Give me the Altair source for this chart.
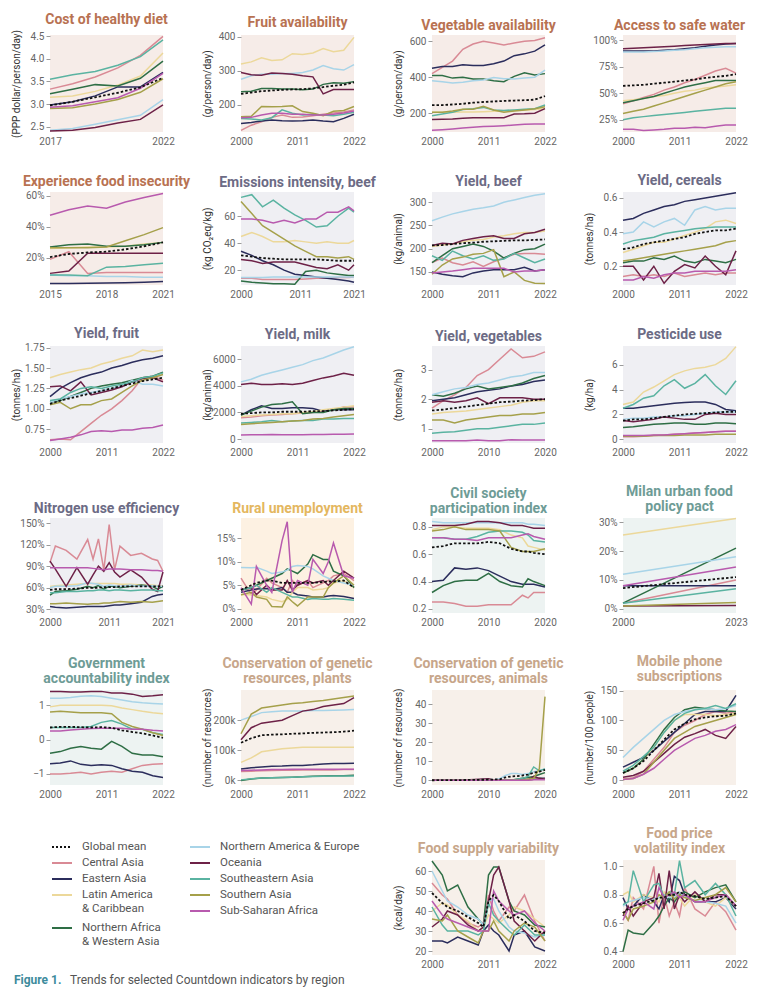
import altair as alt
import pandas as pd

FONT = "Roboto"

# ---------------- regions ----------------
CODES = ["CA", "EA", "LAC", "NAWA", "NAE", "OC", "SEA", "SA", "SSA"]
REGION_LABELS = {
    "GM": "Global mean",
    "CA": "Central Asia",
    "EA": "Eastern Asia",
    "LAC": "Latin America\n& Caribbean",
    "NAWA": "Northern Africa\n& Western Asia",
    "NAE": "Northern America & Europe",
    "OC": "Oceania",
    "SEA": "Southeastern Asia",
    "SA": "Southern Asia",
    "SSA": "Sub-Saharan Africa",
}
REGION_COLORS = ["#d98a95", "#2b2d5c", "#ecd89a", "#2e6e45", "#a8d4e8",
                 "#6d2147", "#5ab3a1", "#a5a04a", "#b85aae"]
GLOBAL_COLOR = "#111111"
LEGEND_COL1 = ["GM", "CA", "EA", "LAC", "NAWA"]
LEGEND_COL2 = ["NAE", "OC", "SEA", "SA", "SSA"]

THEMES = {
    "diet": ("#f6ece8", "#b87252"),
    "env": ("#efeff3", "#6c6b85"),
    "unemp": ("#fdf1e2", "#e4b75f"),
    "gov": ("#edf3f2", "#6e9c96"),
    "res": ("#f7f0ea", "#c7a68a"),
}

# ---------------- data ----------------
Y12 = [2000, 2002, 2004, 2006, 2008, 2010, 2012, 2014, 2016, 2018, 2020, 2022]

COST_YEARS = [2017, 2018, 2019, 2020, 2021, 2022]
COST = {
    "GM": [2.97, 3.05, 3.15, 3.25, 3.37, 3.58],
    "CA": [3.33, 3.45, 3.60, 3.80, 4.08, 4.50],
    "EA": [2.98, 3.05, 3.18, 3.38, 3.38, 3.70],
    "LAC": [3.15, 3.18, 3.28, 3.42, 3.62, 4.13],
    "NAWA": [3.23, 3.33, 3.43, 3.40, 3.57, 3.95],
    "NAE": [2.42, 2.46, 2.55, 2.65, 2.75, 3.10],
    "OC": [2.40, 2.42, 2.48, 2.58, 2.66, 2.98],
    "SEA": [3.55, 3.65, 3.72, 3.86, 4.05, 4.42],
    "SA": [2.90, 2.92, 3.00, 3.10, 3.26, 3.56],
    "SSA": [2.93, 2.96, 3.05, 3.14, 3.35, 3.68],
}

FRUIT = {
    "GM": [232, 236, 240, 242, 244, 245, 246, 248, 252, 256, 259, 266],
    "CA": [125, 140, 150, 163, 170, 163, 164, 168, 172, 176, 179, 185],
    "EA": [145, 148, 152, 155, 153, 152, 153, 155, 152, 150, 160, 172],
    "LAC": [320, 326, 338, 330, 332, 350, 348, 352, 365, 356, 360, 398],
    "NAWA": [238, 240, 248, 248, 246, 246, 244, 246, 260, 265, 263, 268],
    "NAE": [275, 285, 290, 290, 292, 292, 295, 302, 315, 306, 302, 318],
    "OC": [295, 288, 287, 293, 292, 290, 285, 282, 232, 245, 245, 245],
    "SEA": [160, 158, 155, 162, 185, 175, 170, 172, 170, 168, 172, 178],
    "SA": [165, 166, 195, 194, 195, 197, 180, 175, 168, 181, 183, 195],
    "SSA": [162, 163, 170, 175, 175, 172, 172, 170, 170, 172, 176, 182],
}

VEG = {
    "GM": [245, 245, 248, 252, 258, 262, 265, 268, 270, 272, 275, 295],
    "CA": [420, 455, 490, 555, 585, 600, 590, 580, 590, 600, 605, 620],
    "EA": [450, 460, 460, 470, 465, 465, 475, 490, 520, 530, 545, 580],
    "LAC": [205, 205, 205, 206, 207, 208, 210, 212, 214, 216, 220, 225],
    "NAWA": [410, 410, 395, 400, 390, 390, 380, 375, 405, 425, 412, 420],
    "NAE": [380, 375, 368, 372, 380, 385, 398, 392, 390, 395, 400, 440],
    "OC": [165, 166, 168, 172, 175, 175, 175, 175, 195, 196, 200, 225],
    "SEA": [185, 195, 205, 220, 225, 232, 218, 215, 218, 222, 225, 245],
    "SA": [205, 205, 212, 222, 222, 238, 218, 205, 212, 218, 225, 235],
    "SSA": [105, 108, 112, 117, 122, 125, 127, 130, 134, 138, 140, 140],
}

WATER = {
    "GM": [0.57, 0.575, 0.58, 0.59, 0.60, 0.61, 0.62, 0.63, 0.645, 0.655, 0.665, 0.68],
    "CA": [0.40, 0.43, 0.46, 0.49, 0.53, 0.56, 0.60, 0.63, 0.67, 0.71, 0.735, 0.69],
    "EA": [0.90, 0.90, 0.90, 0.90, 0.905, 0.91, 0.92, 0.93, 0.945, 0.955, 0.965, 0.97],
    "LAC": [0.43, 0.44, 0.45, 0.47, 0.48, 0.50, 0.52, 0.53, 0.55, 0.56, 0.57, 0.58],
    "NAWA": [0.41, 0.43, 0.45, 0.47, 0.50, 0.53, 0.56, 0.58, 0.60, 0.62, 0.62, 0.62],
    "NAE": [0.89, 0.89, 0.89, 0.895, 0.90, 0.905, 0.91, 0.92, 0.93, 0.935, 0.94, 0.94],
    "OC": [0.92, 0.925, 0.93, 0.935, 0.94, 0.945, 0.95, 0.955, 0.96, 0.965, 0.97, 0.97],
    "SEA": [0.25, 0.27, 0.28, 0.29, 0.30, 0.31, 0.32, 0.33, 0.34, 0.35, 0.36, 0.36],
    "SA": [0.31, 0.33, 0.35, 0.38, 0.41, 0.44, 0.47, 0.50, 0.53, 0.56, 0.59, 0.61],
    "SSA": [0.16, 0.16, 0.15, 0.155, 0.16, 0.17, 0.17, 0.18, 0.175, 0.19, 0.20, 0.20],
}

INSEC_YEARS = [2015, 2016, 2017, 2018, 2019, 2020, 2021]
INSEC = {
    "GM": [0.205, 0.225, 0.235, 0.24, 0.255, 0.275, 0.30],
    "CA": [0.19, 0.24, 0.10, 0.105, 0.105, 0.105, 0.105],
    "EA": [0.035, 0.035, 0.036, 0.038, 0.04, 0.043, 0.047],
    "LAC": [0.26, 0.265, 0.27, 0.27, 0.275, 0.29, 0.30],
    "NAWA": [0.27, 0.285, 0.29, 0.275, 0.275, 0.285, 0.30],
    "NAE": [0.09, 0.085, 0.085, 0.08, 0.08, 0.075, 0.075],
    "OC": [0.10, 0.115, 0.23, 0.23, 0.23, 0.23, 0.23],
    "SEA": [0.09, 0.09, 0.085, 0.14, 0.145, 0.155, 0.165],
    "SA": [0.265, 0.265, 0.265, 0.27, 0.31, 0.35, 0.395],
    "SSA": [0.475, 0.51, 0.535, 0.52, 0.56, 0.59, 0.615],
}

EMIS_YEARS = [2000, 2002, 2004, 2006, 2008, 2010, 2012, 2014, 2016, 2018, 2020, 2021]
EMIS = {
    "GM": [31, 30, 29, 28.5, 28, 28, 28, 28, 27.5, 27, 27, 27],
    "CA": [14, 14, 13, 13, 13, 13, 13.5, 14, 14, 14.5, 14.5, 15],
    "EA": [34, 31, 27, 24, 20, 17, 16, 15, 14, 13, 12, 11],
    "LAC": [45, 48, 45, 41, 41, 42, 41, 40, 41, 40, 40, 42],
    "NAWA": [12, 11, 10.5, 10, 10, 9.5, 19, 20, 18, 17, 16, 16],
    "NAE": [14.5, 14.5, 14.5, 15, 15, 15, 15, 15, 15, 15, 15, 15],
    "OC": [28, 27, 25, 26, 26, 26, 24, 22, 21, 24, 20, 24],
    "SEA": [74, 76, 67, 72, 66, 61, 57, 52, 53, 60, 66, 63],
    "SA": [71, 62, 53, 48, 43, 38, 34, 30, 30, 29, 30, 28],
    "SSA": [58, 58, 57, 55, 57, 55, 58, 58, 63, 63, 67, 64],
}

BEEF = {
    "GM": [207, 208, 210, 212, 213, 215, 216, 217, 218, 218, 219, 220],
    "CA": [170, 180, 170, 165, 172, 162, 172, 180, 188, 190, 190, 188],
    "EA": [150, 145, 142, 140, 148, 152, 155, 155, 155, 160, 152, 155],
    "LAC": [205, 208, 210, 215, 218, 220, 225, 228, 232, 235, 235, 238],
    "NAWA": [170, 185, 200, 205, 210, 205, 195, 180, 190, 198, 200, 210],
    "NAE": [260, 268, 275, 280, 285, 288, 292, 300, 305, 310, 315, 318],
    "OC": [207, 212, 210, 218, 222, 226, 228, 222, 222, 232, 235, 242],
    "SEA": [185, 175, 195, 185, 178, 185, 175, 178, 190, 180, 170, 178],
    "SA": [145, 165, 178, 182, 188, 190, 198, 140, 150, 132, 126, 125],
    "SSA": [148, 150, 152, 155, 158, 158, 158, 158, 150, 152, 152, 155],
}

CEREAL = {
    "GM": [0.30, 0.31, 0.33, 0.34, 0.35, 0.36, 0.37, 0.39, 0.40, 0.41, 0.41, 0.42],
    "CA": [0.14, 0.15, 0.14, 0.15, 0.14, 0.16, 0.14, 0.15, 0.16, 0.15, 0.16, 0.16],
    "EA": [0.47, 0.48, 0.51, 0.53, 0.55, 0.56, 0.58, 0.59, 0.60, 0.61, 0.62, 0.63],
    "LAC": [0.28, 0.30, 0.32, 0.34, 0.34, 0.36, 0.38, 0.40, 0.42, 0.46, 0.47, 0.45],
    "NAWA": [0.22, 0.23, 0.23, 0.25, 0.24, 0.26, 0.23, 0.22, 0.24, 0.23, 0.22, 0.24],
    "NAE": [0.39, 0.40, 0.46, 0.43, 0.46, 0.48, 0.44, 0.53, 0.55, 0.53, 0.54, 0.54],
    "OC": [0.20, 0.20, 0.12, 0.20, 0.10, 0.17, 0.21, 0.19, 0.26, 0.20, 0.15, 0.29],
    "SEA": [0.33, 0.35, 0.36, 0.37, 0.39, 0.40, 0.41, 0.42, 0.425, 0.43, 0.43, 0.43],
    "SA": [0.23, 0.24, 0.25, 0.26, 0.27, 0.28, 0.29, 0.30, 0.31, 0.32, 0.34, 0.35],
    "SSA": [0.12, 0.12, 0.14, 0.13, 0.15, 0.16, 0.16, 0.17, 0.17, 0.17, 0.17, 0.18],
}

FRUITY = {
    "GM": [1.06, 1.10, 1.13, 1.16, 1.19, 1.22, 1.25, 1.28, 1.31, 1.34, 1.36, 1.38],
    "CA": [0.62, 0.63, 0.62, 0.72, 0.82, 0.92, 1.00, 1.10, 1.22, 1.38, 1.40, 1.35],
    "EA": [1.15, 1.25, 1.32, 1.38, 1.42, 1.45, 1.50, 1.53, 1.57, 1.60, 1.62, 1.65],
    "LAC": [1.38, 1.42, 1.45, 1.48, 1.50, 1.55, 1.58, 1.62, 1.65, 1.72, 1.70, 1.72],
    "NAWA": [1.08, 1.10, 1.15, 1.20, 1.25, 1.28, 1.30, 1.32, 1.35, 1.38, 1.40, 1.45],
    "NAE": [1.08, 1.12, 1.15, 1.18, 1.20, 1.22, 1.25, 1.28, 1.35, 1.30, 1.30, 1.28],
    "OC": [1.27, 1.28, 1.22, 1.33, 1.17, 1.20, 1.23, 1.27, 1.33, 1.37, 1.38, 1.33],
    "SEA": [1.10, 1.12, 1.20, 1.25, 1.27, 1.25, 1.28, 1.30, 1.33, 1.38, 1.40, 1.44],
    "SA": [1.05, 1.08, 1.00, 1.05, 1.05, 1.10, 1.12, 1.20, 1.28, 1.35, 1.38, 1.42],
    "SSA": [0.61, 0.63, 0.65, 0.68, 0.72, 0.73, 0.72, 0.74, 0.74, 0.76, 0.77, 0.80],
}

MILK = {
    "GM": [1900, 1950, 2000, 2000, 2050, 2050, 2050, 2100, 2100, 2150, 2200, 2250],
    "CA": [1600, 1650, 1750, 1800, 1850, 1900, 1950, 2000, 2100, 2200, 2400, 2400],
    "EA": [1800, 2200, 2500, 2300, 2300, 2350, 2350, 2300, 2100, 2200, 2200, 2200],
    "LAC": [1700, 1750, 1800, 1850, 1900, 1900, 2000, 2050, 2200, 2300, 2400, 2500],
    "NAWA": [1800, 2100, 2400, 2600, 2650, 2800, 1900, 2000, 2000, 2200, 2300, 2300],
    "NAE": [4300, 4500, 4800, 5000, 5200, 5400, 5600, 5900, 6100, 6400, 6700, 6950],
    "OC": [4100, 4200, 4100, 4100, 4150, 4100, 4200, 4400, 4600, 4750, 4950, 4800],
    "SEA": [1200, 1250, 1300, 1400, 1300, 1350, 1400, 1400, 1500, 1500, 1550, 1550],
    "SA": [1100, 1150, 1200, 1250, 1300, 1350, 1400, 1500, 1550, 1650, 1750, 1850],
    "SSA": [300, 320, 330, 340, 330, 320, 330, 340, 340, 350, 360, 370],
}

VEGY_YEARS = [2000, 2002, 2004, 2006, 2008, 2010, 2012, 2014, 2016, 2018, 2020]
VEGY = {
    "GM": [1.62, 1.65, 1.70, 1.75, 1.80, 1.85, 1.90, 1.92, 1.95, 1.97, 2.00],
    "CA": [1.70, 1.95, 2.15, 2.40, 2.80, 3.00, 3.35, 3.70, 3.40, 3.45, 3.60],
    "EA": [1.95, 2.00, 2.05, 2.15, 2.25, 2.30, 2.35, 2.45, 2.50, 2.60, 2.65],
    "LAC": [1.50, 1.55, 1.58, 1.60, 1.65, 1.70, 1.75, 1.80, 1.90, 1.95, 1.95],
    "NAWA": [2.15, 2.10, 2.20, 2.35, 2.45, 2.35, 2.40, 2.45, 2.55, 2.70, 2.80],
    "NAE": [2.15, 2.25, 2.35, 2.40, 2.50, 2.55, 2.65, 2.75, 2.80, 2.90, 2.90],
    "OC": [1.90, 1.95, 1.90, 1.95, 2.05, 1.85, 2.05, 2.05, 2.05, 2.00, 2.00],
    "SEA": [0.85, 0.88, 0.90, 0.95, 1.00, 1.00, 1.05, 1.10, 1.15, 1.15, 1.20],
    "SA": [1.30, 1.30, 1.20, 1.30, 1.35, 1.40, 1.45, 1.45, 1.50, 1.50, 1.55],
    "SSA": [0.60, 0.60, 0.60, 0.60, 0.62, 0.60, 0.60, 0.63, 0.62, 0.62, 0.62],
}

PEST = {
    "GM": [1.5, 1.6, 1.6, 1.7, 1.8, 1.9, 2.0, 2.05, 2.1, 2.15, 2.2, 2.2],
    "CA": [0.2, 0.2, 0.25, 0.3, 0.35, 0.4, 0.45, 0.5, 0.55, 0.6, 0.65, 0.65],
    "EA": [2.5, 2.5, 2.6, 2.7, 2.8, 2.9, 2.95, 3.0, 3.0, 2.8, 2.4, 2.3],
    "LAC": [2.8, 3.0, 3.8, 4.2, 4.7, 5.2, 5.5, 5.7, 5.8, 6.0, 6.5, 7.45],
    "NAWA": [0.95, 1.0, 1.1, 1.2, 1.25, 1.3, 1.3, 1.2, 1.2, 1.3, 1.3, 1.25],
    "NAE": [1.6, 1.7, 1.7, 1.8, 1.8, 1.9, 1.9, 2.0, 2.1, 2.2, 2.2, 2.2],
    "OC": [1.5, 1.4, 1.5, 1.6, 1.8, 1.7, 1.6, 1.6, 2.0, 2.1, 2.0, 2.0],
    "SEA": [2.5, 2.8, 3.3, 3.5, 4.3, 4.8, 4.1, 4.5, 5.2, 4.3, 3.6, 4.7],
    "SA": [0.25, 0.25, 0.25, 0.3, 0.3, 0.3, 0.35, 0.35, 0.35, 0.4, 0.4, 0.4],
    "SSA": [0.3, 0.3, 0.3, 0.35, 0.35, 0.4, 0.45, 0.5, 0.55, 0.6, 0.65, 0.65],
}

NUE_YEARS = [2000, 2001, 2003, 2005, 2007, 2008, 2009, 2010, 2011, 2012, 2013, 2015, 2017, 2019, 2020, 2021]
NUE = {
    "GM": [0.57, 0.58, 0.58, 0.59, 0.60, 0.60, 0.60, 0.61, 0.61, 0.61, 0.62, 0.62, 0.62, 0.62, 0.62, 0.62],
    "CA": [0.95, 1.18, 1.12, 1.00, 1.27, 1.00, 1.28, 0.85, 1.48, 0.85, 1.18, 1.05, 1.08, 1.00, 0.98, 0.83],
    "EA": [0.34, 0.33, 0.32, 0.33, 0.34, 0.34, 0.34, 0.34, 0.35, 0.36, 0.36, 0.38, 0.40, 0.48, 0.50, 0.51],
    "LAC": [0.62, 0.63, 0.64, 0.65, 0.66, 0.66, 0.66, 0.66, 0.66, 0.66, 0.65, 0.65, 0.64, 0.64, 0.63, 0.63],
    "NAWA": [0.50, 0.55, 0.56, 0.58, 0.62, 0.60, 0.63, 0.58, 0.62, 0.62, 0.60, 0.62, 0.64, 0.62, 0.58, 0.62],
    "NAE": [0.60, 0.62, 0.62, 0.63, 0.67, 0.66, 0.65, 0.62, 0.64, 0.63, 0.62, 0.64, 0.62, 0.63, 0.62, 0.62],
    "OC": [0.97, 0.86, 0.62, 0.88, 0.65, 0.78, 0.90, 0.83, 0.95, 0.82, 0.75, 0.85, 0.75, 0.58, 0.55, 0.82],
    "SEA": [0.53, 0.53, 0.55, 0.55, 0.56, 0.56, 0.57, 0.57, 0.56, 0.57, 0.57, 0.56, 0.57, 0.57, 0.56, 0.56],
    "SA": [0.38, 0.38, 0.39, 0.38, 0.37, 0.38, 0.38, 0.39, 0.39, 0.40, 0.41, 0.40, 0.41, 0.40, 0.41, 0.42],
    "SSA": [0.88, 0.88, 0.88, 0.88, 0.88, 0.87, 0.86, 0.85, 0.86, 0.86, 0.86, 0.85, 0.85, 0.84, 0.84, 0.83],
}

RURAL_YEARS = [2000, 2002, 2003, 2005, 2006, 2008, 2009, 2010, 2011, 2013, 2014, 2016, 2017, 2018, 2020, 2022]
RURAL = {
    "GM": [0.040, 0.050, 0.055, 0.060, 0.060, 0.055, 0.055, 0.055, 0.055, 0.055, 0.055, 0.057, 0.058, 0.058, 0.060, 0.045],
    "CA": [0.065, 0.030, 0.040, 0.065, 0.055, 0.045, 0.035, 0.060, 0.050, 0.060, 0.045, 0.055, 0.060, 0.070, 0.075, 0.060],
    "EA": [0.035, 0.040, 0.042, 0.043, 0.040, 0.045, 0.035, 0.035, 0.030, 0.027, 0.025, 0.025, 0.027, 0.028, 0.026, 0.022],
    "LAC": [0.030, 0.030, 0.028, 0.025, 0.020, 0.015, 0.020, 0.035, 0.045, 0.045, 0.040, 0.042, 0.045, 0.055, 0.060, 0.045],
    "NAWA": [0.040, 0.045, 0.050, 0.060, 0.065, 0.075, 0.085, 0.080, 0.075, 0.095, 0.115, 0.105, 0.105, 0.080, 0.070, 0.045],
    "NAE": [0.088, 0.087, 0.088, 0.080, 0.075, 0.078, 0.082, 0.090, 0.092, 0.090, 0.085, 0.070, 0.065, 0.060, 0.055, 0.050],
    "OC": [0.040, 0.045, 0.030, 0.050, 0.040, 0.040, 0.060, 0.040, 0.050, 0.060, 0.055, 0.060, 0.050, 0.060, 0.080, 0.065],
    "SEA": [0.040, 0.045, 0.050, 0.035, 0.045, 0.035, 0.030, 0.025, 0.025, 0.020, 0.022, 0.020, 0.020, 0.022, 0.020, 0.018],
    "SA": [0.030, 0.035, 0.025, 0.020, 0.005, 0.004, 0.025, 0.015, 0.006, 0.025, 0.025, 0.025, 0.045, 0.055, 0.070, 0.050],
    "SSA": [0.045, 0.010, 0.090, 0.050, 0.035, 0.145, 0.185, 0.035, 0.060, 0.050, 0.105, 0.075, 0.100, 0.140, 0.070, 0.065],
}

CIVIL_YEARS = [2000, 2002, 2004, 2006, 2008, 2010, 2012, 2014, 2016, 2017, 2018, 2020]
CIVIL = {
    "GM": [0.65, 0.66, 0.68, 0.68, 0.68, 0.69, 0.68, 0.64, 0.62, 0.62, 0.61, 0.60],
    "CA": [0.25, 0.25, 0.24, 0.22, 0.22, 0.23, 0.23, 0.23, 0.30, 0.28, 0.32, 0.32],
    "EA": [0.40, 0.41, 0.50, 0.49, 0.50, 0.48, 0.44, 0.40, 0.38, 0.38, 0.38, 0.36],
    "LAC": [0.78, 0.80, 0.80, 0.79, 0.79, 0.79, 0.78, 0.74, 0.72, 0.66, 0.65, 0.63],
    "NAWA": [0.32, 0.37, 0.40, 0.41, 0.41, 0.46, 0.40, 0.37, 0.36, 0.42, 0.40, 0.37],
    "NAE": [0.84, 0.83, 0.83, 0.83, 0.83, 0.83, 0.83, 0.83, 0.83, 0.82, 0.82, 0.81],
    "OC": [0.81, 0.81, 0.81, 0.82, 0.84, 0.84, 0.83, 0.81, 0.81, 0.80, 0.79, 0.79],
    "SEA": [0.72, 0.72, 0.71, 0.71, 0.73, 0.76, 0.77, 0.77, 0.76, 0.74, 0.70, 0.69],
    "SA": [0.77, 0.78, 0.80, 0.78, 0.78, 0.78, 0.77, 0.65, 0.62, 0.62, 0.62, 0.64],
    "SSA": [0.72, 0.72, 0.71, 0.71, 0.70, 0.72, 0.72, 0.72, 0.74, 0.75, 0.73, 0.71],
}

MILAN_YEARS = [2000, 2023]
MILAN = {
    "GM": [0.072, 0.11],
    "CA": [0.02, 0.10],
    "EA": [0.08, 0.08],
    "LAC": [0.255, 0.312],
    "NAWA": [0.02, 0.21],
    "NAE": [0.12, 0.18],
    "OC": [0.01, 0.012],
    "SEA": [0.02, 0.07],
    "SA": [0.01, 0.022],
    "SSA": [0.08, 0.145],
}

GOV = {
    "GM": [0.35, 0.37, 0.37, 0.36, 0.35, 0.36, 0.34, 0.27, 0.22, 0.18, 0.12, 0.05],
    "CA": [-1.00, -1.00, -0.98, -0.95, -1.00, -0.95, -0.92, -0.95, -0.85, -0.75, -0.72, -0.70],
    "EA": [-0.70, -0.68, -0.62, -0.72, -0.75, -0.73, -0.75, -0.85, -0.92, -0.95, -1.05, -1.10],
    "LAC": [0.95, 1.00, 1.00, 1.00, 1.00, 1.00, 0.98, 0.92, 0.87, 0.82, 0.78, 0.75],
    "NAWA": [-0.40, -0.35, -0.25, -0.20, -0.25, -0.28, -0.05, -0.20, -0.40, -0.45, -0.45, -0.50],
    "NAE": [1.20, 1.20, 1.22, 1.26, 1.27, 1.25, 1.20, 1.15, 1.10, 1.07, 1.05, 1.03],
    "OC": [1.40, 1.40, 1.38, 1.38, 1.40, 1.40, 1.35, 1.35, 1.32, 1.25, 1.27, 1.30],
    "SEA": [0.35, 0.35, 0.35, 0.35, 0.38, 0.50, 0.55, 0.45, 0.30, 0.30, 0.20, 0.15],
    "SA": [0.80, 0.82, 0.80, 0.78, 0.78, 0.78, 0.75, 0.50, 0.38, 0.30, 0.20, 0.12],
    "SSA": [0.25, 0.25, 0.28, 0.30, 0.32, 0.33, 0.33, 0.33, 0.30, 0.30, 0.27, 0.25],
}

PLANTS = {
    "GM": [125000, 140000, 150000, 152000, 153000, 155000, 156000, 158000, 159000, 160000, 162000, 165000],
    "CA": [30000, 31000, 32000, 33000, 34000, 34000, 35000, 35000, 35000, 35000, 36000, 36000],
    "EA": [38000, 42000, 45000, 47000, 48000, 50000, 50000, 52000, 55000, 56000, 56000, 57000],
    "LAC": [60000, 75000, 95000, 100000, 105000, 108000, 110000, 110000, 110000, 110000, 110000, 110000],
    "NAWA": [0, 5000, 8000, 9000, 10000, 11000, 12000, 14000, 15000, 16000, 16000, 17000],
    "NAE": [200000, 212000, 225000, 228000, 230000, 230000, 230000, 232000, 232000, 233000, 234000, 235000],
    "OC": [135000, 175000, 190000, 195000, 200000, 215000, 230000, 235000, 245000, 250000, 255000, 275000],
    "SEA": [2000, 6000, 8000, 9000, 10000, 11000, 12000, 13000, 14000, 15000, 15000, 15000],
    "SA": [155000, 220000, 240000, 245000, 250000, 255000, 258000, 262000, 265000, 270000, 275000, 280000],
    "SSA": [33000, 34000, 35000, 36000, 36000, 37000, 37000, 37000, 37000, 37000, 37000, 37000],
}

ANIM_YEARS = [2000, 2005, 2010, 2011, 2012, 2013, 2014, 2015, 2016, 2017, 2018, 2019, 2020]
ANIM = {
    "GM": [0, 0.1, 0.3, 0.4, 0.5, 1.5, 2.0, 2.2, 2.5, 3.0, 4.0, 4.5, 5.5],
    "CA": [0, 0, 0, 0, 0, 0, 0, 0, 0, 0.5, 1.0, 0.5, 0.5],
    "EA": [0, 0, 0, 0, 0, 0, 0, 0, 0, 0, 0.5, 1.0, 1.0],
    "LAC": [0, 0, 0, 0, 0, 0, 0, 0, 0, 0, 0.5, 0.5, 0.5],
    "NAWA": [0, 0, 0, 0, 0, 0, 0, 0.5, 1.0, 1.5, 2.0, 3.0, 4.0],
    "NAE": [0, 0, 0.5, 0.3, 0.8, 2.5, 3.5, 3.5, 3.0, 3.5, 4.5, 5.0, 6.0],
    "OC": [0, 0, 0.8, 0, 0, 0, 0, 0, 0, 0, 2.0, 1.0, 0.5],
    "SEA": [0, 0, 0, 0, 0, 0, 0, 0.5, 1.0, 2.0, 7.0, 5.0, 6.0],
    "SA": [0, 0, 0, 0, 0, 0, 0, 0, 0, 0.5, 1.0, 6.0, 44.0],
    "SSA": [0, 0, 0, 0, 0, 0, 0, 0, 0, 0, 0.2, 0.2, 0.3],
}

MOBILE = {
    "GM": [12, 20, 32, 50, 68, 85, 95, 102, 105, 107, 108, 112],
    "CA": [2, 4, 15, 35, 55, 80, 92, 100, 110, 115, 112, 115],
    "EA": [22, 30, 38, 50, 65, 80, 95, 110, 115, 115, 115, 142],
    "LAC": [12, 20, 35, 55, 80, 100, 110, 110, 110, 108, 110, 112],
    "NAWA": [12, 20, 35, 60, 85, 105, 118, 122, 120, 118, 116, 115],
    "NAE": [38, 55, 70, 85, 100, 110, 115, 118, 120, 118, 120, 125],
    "OC": [5, 8, 15, 30, 45, 60, 72, 78, 85, 75, 70, 90],
    "SEA": [15, 25, 40, 55, 80, 100, 112, 118, 120, 125, 120, 128],
    "SA": [1, 3, 10, 30, 50, 70, 80, 90, 95, 100, 105, 110],
    "SSA": [1, 3, 10, 20, 35, 50, 60, 70, 75, 82, 85, 93],
}

SUPPLY_YEARS = [2000, 2002, 2003, 2005, 2007, 2009, 2010, 2011, 2012, 2013, 2015, 2016, 2018, 2020, 2022]
SUPPLY = {
    "GM": [49, 44, 42, 40, 37, 34, 32, 45, 48, 45, 36, 38, 35, 30, 29],
    "CA": [54, 48, 46, 38, 34, 32, 34, 48, 40, 35, 42, 40, 48, 35, 25],
    "EA": [25, 25, 24, 27, 25, 23, 30, 33, 30, 28, 20, 28, 30, 22, 20],
    "LAC": [40, 44, 43, 38, 35, 30, 32, 38, 36, 34, 38, 42, 40, 36, 32],
    "NAWA": [65, 58, 50, 53, 42, 36, 33, 58, 62, 62, 45, 40, 38, 33, 32],
    "NAE": [60, 50, 45, 42, 38, 36, 33, 45, 46, 40, 32, 30, 29, 27, 28],
    "OC": [32, 36, 40, 38, 33, 30, 32, 45, 58, 62, 45, 35, 30, 25, 30],
    "SEA": [42, 33, 30, 30, 30, 28, 30, 44, 38, 35, 30, 28, 33, 28, 28],
    "SA": [36, 35, 38, 30, 27, 24, 30, 30, 35, 30, 25, 30, 34, 32, 25],
    "SSA": [45, 38, 36, 34, 32, 30, 30, 30, 50, 45, 40, 38, 40, 34, 30],
}

PRICE_YEARS = [2000, 2001, 2002, 2004, 2006, 2007, 2008, 2009, 2010, 2011, 2012, 2014, 2016, 2018, 2020, 2022]
PRICE = {
    "GM": [0.67, 0.70, 0.72, 0.74, 0.76, 0.78, 0.78, 0.80, 0.80, 0.82, 0.80, 0.79, 0.77, 0.78, 0.79, 0.72],
    "CA": [0.68, 0.62, 0.78, 0.70, 1.00, 0.60, 0.80, 0.65, 0.75, 0.65, 0.85, 0.70, 0.65, 0.75, 0.68, 0.55],
    "EA": [0.78, 0.70, 0.72, 0.80, 0.75, 0.70, 0.80, 0.75, 0.93, 0.90, 0.80, 0.75, 0.75, 0.75, 0.78, 0.70],
    "LAC": [0.80, 0.82, 0.75, 0.80, 0.78, 0.75, 0.82, 0.78, 0.80, 0.78, 0.72, 0.80, 0.75, 0.72, 0.78, 0.72],
    "NAWA": [0.40, 0.55, 0.53, 0.52, 0.60, 0.65, 0.72, 0.78, 0.75, 0.80, 0.82, 0.78, 0.82, 0.85, 0.87, 0.75],
    "NAE": [0.72, 0.75, 0.76, 0.78, 0.77, 0.78, 0.80, 0.78, 0.78, 0.82, 0.78, 0.76, 0.75, 0.74, 0.72, 0.60],
    "OC": [0.65, 0.72, 0.65, 0.75, 0.78, 0.95, 0.70, 0.97, 0.70, 0.80, 0.75, 0.82, 0.75, 0.80, 0.80, 0.72],
    "SEA": [0.73, 0.75, 0.97, 0.75, 0.87, 0.88, 0.78, 0.82, 0.80, 1.04, 0.85, 0.90, 0.80, 0.88, 0.80, 0.65],
    "SA": [0.68, 0.62, 0.70, 0.72, 0.75, 0.80, 0.78, 0.82, 0.77, 0.80, 0.78, 0.76, 0.78, 0.80, 0.85, 0.75],
    "SSA": [0.62, 0.70, 0.72, 0.75, 0.70, 0.85, 0.78, 0.80, 0.82, 0.78, 0.80, 0.75, 0.75, 0.78, 0.80, 0.72],
}

# ---------------- layout ----------------
W = 113
HSPACE = 78
ROW_H = [97, 93, 97, 95, 95, 95]


def panel(title, theme, years, series, ydom, yticks, yfmt, ytitle, xticks, height):
    bg, tcolor = THEMES[theme]
    reg_rows = []
    for code in CODES:
        vals = series[code]
        assert len(vals) == len(years), (title, code)
        reg_rows += [{"year": y, "value": v, "code": code} for y, v in zip(years, vals)]
    assert len(series["GM"]) == len(years), (title, "GM")
    gm_rows = [{"year": y, "value": v} for y, v in zip(years, series["GM"])]

    xenc = alt.X(
        "year:Q",
        scale=alt.Scale(domain=[years[0], years[-1]], nice=False, zero=False),
        axis=alt.Axis(values=xticks, format="d", title=None, grid=False, domain=False,
                      ticks=False, tickSize=0, labelPadding=4, labelFontSize=10,
                      labelColor="#666666", labelFlush=False, labelFont=FONT),
    )
    ax = dict(values=yticks, format=yfmt, grid=False, domain=False, tickSize=4,
              tickColor="#9a9a9a", labelPadding=2, labelFontSize=10, labelColor="#666666",
              labelFont=FONT, minExtent=26, maxExtent=26, titleFontSize=10,
              titleColor="#333333", titleFontWeight="normal", titlePadding=3, titleFont=FONT)
    yaxis = alt.Axis(title=ytitle, **ax) if ytitle else alt.Axis(title=None, **ax)
    yenc = alt.Y("value:Q", scale=alt.Scale(domain=ydom, nice=False, zero=False), axis=yaxis)

    lines = alt.Chart(pd.DataFrame(reg_rows)).mark_line(strokeWidth=1.5).encode(
        x=xenc, y=yenc,
        color=alt.Color("code:N", scale=alt.Scale(domain=CODES, range=REGION_COLORS), legend=None),
    )
    gm = alt.Chart(pd.DataFrame(gm_rows)).mark_line(
        strokeWidth=1.8, strokeDash=[2.5, 2], color=GLOBAL_COLOR
    ).encode(x=xenc, y=yenc)

    return alt.layer(lines, gm).properties(
        width=W, height=height,
        title=alt.TitleParams(text=title, color=tcolor, fontSize=14, fontWeight="bold",
                              font=FONT, anchor="middle", frame="group", offset=2, lineHeight=15),
        view=alt.ViewBackground(fill=bg, stroke=None),
    )


P = [
    # row 1
    panel("Cost of healthy diet", "diet", COST_YEARS, COST, [2.38, 4.53], [2.5, 3.0, 3.5, 4.0, 4.5], ".1f",
          "(PPP dollar/person/day)", [2017, 2022], ROW_H[0]),
    panel("Fruit availability", "diet", Y12, FRUIT, [120, 405], [200, 300, 400], "d",
          "(g/person/day)", [2000, 2011, 2022], ROW_H[0]),
    panel("Vegetable availability", "diet", Y12, VEG, [95, 635], [200, 400, 600], "d",
          "(g/person/day)", [2000, 2011, 2022], ROW_H[0]),
    panel("Access to safe water", "diet", Y12, WATER, [0.135, 1.05], [0.25, 0.5, 0.75, 1.0], ".0%",
          None, [2000, 2011, 2022], ROW_H[0]),
    # row 2
    panel("Experience food insecurity", "diet", INSEC_YEARS, INSEC, [0.025, 0.625], [0.2, 0.4, 0.6], ".0%",
          None, [2015, 2018, 2021], ROW_H[1]),
    panel("Emissions intensity, beef", "env", EMIS_YEARS, EMIS, [9, 78], [20, 40, 60], "d",
          "(kg CO\u2082eq/kg)", [2000, 2011, 2021], ROW_H[1]),
    panel("Yield, beef", "env", Y12, BEEF, [122, 322], [150, 200, 250, 300], "d",
          "(kg/animal)", [2000, 2011, 2022], ROW_H[1]),
    panel("Yield, cereals", "env", Y12, CEREAL, [0.09, 0.635], [0.2, 0.4, 0.6], ".1f",
          "(tonnes/ha)", [2000, 2011, 2022], ROW_H[1]),
    # row 3
    panel("Yield, fruit", "env", Y12, FRUITY, [0.58, 1.77], [0.75, 1.0, 1.25, 1.5, 1.75], ".2f",
          "(tonnes/ha)", [2000, 2011, 2022], ROW_H[2]),
    panel("Yield, milk", "env", Y12, MILK, [-300, 7000], [0, 2000, 4000, 6000], "d",
          "(kg/animal)", [2000, 2011, 2022], ROW_H[2]),
    panel("Yield, vegetables", "env", VEGY_YEARS, VEGY, [0.52, 3.8], [1, 2, 3], "d",
          "(tonnes/ha)", [2000, 2010, 2020], ROW_H[2]),
    panel("Pesticide use", "env", Y12, PEST, [-0.3, 7.5], [0, 2, 4, 6], "d",
          "(kg/ha)", [2000, 2011, 2022], ROW_H[2]),
    # row 4
    panel("Nitrogen use efficiency", "env", NUE_YEARS, NUE, [0.25, 1.57], [0.3, 0.6, 0.9, 1.2, 1.5], ".0%",
          None, [2000, 2011, 2021], ROW_H[3]),
    panel("Rural unemployment", "unemp", RURAL_YEARS, RURAL, [-0.009, 0.193], [0, 0.05, 0.10, 0.15], ".0%",
          None, [2000, 2011, 2022], ROW_H[3]),
    panel(["Civil society", "participation index"], "gov", CIVIL_YEARS, CIVIL, [0.17, 0.865],
          [0.2, 0.4, 0.6, 0.8], ".1f", None, [2000, 2010, 2020], ROW_H[3]),
    panel(["Milan urban food", "policy pact"], "gov", MILAN_YEARS, MILAN, [-0.014, 0.314],
          [0, 0.1, 0.2, 0.3], ".0%", None, [2000, 2023], ROW_H[3]),
    # row 5
    panel(["Government", "accountability index"], "gov", Y12, GOV, [-1.32, 1.44], [-1, 0, 1], "d",
          None, [2000, 2011, 2022], ROW_H[4]),
    panel(["Conservation of genetic", "resources, plants"], "res", Y12, PLANTS, [-15000, 300000],
          [0, 100000, 200000], "~s", "(number of resources)", [2000, 2011, 2022], ROW_H[4]),
    panel(["Conservation of genetic", "resources, animals"], "res", ANIM_YEARS, ANIM, [-2.5, 47.5],
          [0, 10, 20, 30, 40], "d", "(number of resources)", [2000, 2010, 2020], ROW_H[4]),
    panel(["Mobile phone", "subscriptions"], "res", Y12, MOBILE, [-8, 151], [0, 50, 100, 150], "d",
          "(number/100 people)", [2000, 2011, 2022], ROW_H[4]),
    # row 6
    panel("Food supply variability", "res", SUPPLY_YEARS, SUPPLY, [18, 65.5], [20, 30, 40, 50, 60], "d",
          "(kcal/day)", [2000, 2011, 2022], ROW_H[5]),
    panel(["Food price", "volatility index"], "res", PRICE_YEARS, PRICE, [0.375, 1.045],
          [0.4, 0.6, 0.8, 1.0], ".1f", None, [2000, 2011, 2022], ROW_H[5]),
]

# ---------------- legend block ----------------
LEG_W = 2 * W + HSPACE
LEG_H = ROW_H[5]
SYM_X = [2, 140]
TXT_X = [32, 170]
sym_rows, txt_rows = [], []
for ci, col in enumerate([LEGEND_COL1, LEGEND_COL2]):
    yy = -13
    for code in col:
        parts = REGION_LABELS[code].split("\n")
        sym_rows.append({"code": code, "x": SYM_X[ci], "x2": SYM_X[ci] + 20, "y": yy})
        for j, line in enumerate(parts):
            txt_rows.append({"text": line, "x": TXT_X[ci], "y": yy + 14 * j})
        yy += 14 * (len(parts) - 1) + 16 + (3 if len(parts) > 1 else 0)

lx = alt.X("x:Q", scale=alt.Scale(domain=[0, LEG_W], nice=False, zero=False), axis=None)
ly = alt.Y("y:Q", scale=alt.Scale(domain=[0, LEG_H], nice=False, zero=False, reverse=True), axis=None)

sym_df = pd.DataFrame(sym_rows)
leg_reg = alt.Chart(sym_df[sym_df.code != "GM"]).mark_rule(strokeWidth=2).encode(
    x=lx, x2="x2:Q", y=ly,
    color=alt.Color("code:N", scale=alt.Scale(domain=CODES, range=REGION_COLORS), legend=None),
)
leg_gm = alt.Chart(sym_df[sym_df.code == "GM"]).mark_rule(
    strokeWidth=2, strokeDash=[2, 2], color=GLOBAL_COLOR
).encode(x=lx, x2="x2:Q", y=ly)
leg_txt = alt.Chart(pd.DataFrame(txt_rows)).mark_text(
    align="left", baseline="middle", fontSize=11.5, color="#555555", font=FONT
).encode(x=lx, y=ly, text="text:N")

CAPTION_BOLD = "Figure 1."
CAPTION_TEXT = "Trends for selected Countdown indicators by region"
cap_b = alt.Chart(pd.DataFrame([{"x": -36, "y": 120, "t": CAPTION_BOLD}])).mark_text(
    align="left", baseline="middle", fontSize=12, fontWeight="bold", color="#3d8b9c", font=FONT
).encode(x=lx, y=ly, text="t:N")
cap_t = alt.Chart(pd.DataFrame([{"x": 20, "y": 120, "t": CAPTION_TEXT}])).mark_text(
    align="left", baseline="middle", fontSize=12, color="#555555", font=FONT
).encode(x=lx, y=ly, text="t:N")

legend = alt.layer(leg_reg, leg_gm, leg_txt, cap_b, cap_t).properties(
    width=LEG_W, height=LEG_H, view=alt.ViewBackground(stroke=None)
)

rows = [
    alt.hconcat(*P[0:4], spacing=HSPACE, bounds="flush"),
    alt.hconcat(*P[4:8], spacing=HSPACE, bounds="flush"),
    alt.hconcat(*P[8:12], spacing=HSPACE, bounds="flush"),
    alt.hconcat(*P[12:16], spacing=HSPACE, bounds="flush"),
    alt.hconcat(*P[16:20], spacing=HSPACE, bounds="flush"),
    alt.hconcat(legend, P[20], P[21], spacing=HSPACE, bounds="flush"),
]

chart = alt.vconcat(*rows, spacing=27).properties(
    padding={"left": 3, "top": 5, "right": 5, "bottom": 5}
).configure(font=FONT).configure_view(stroke=None)

chart.save("out.html", embed_options={"renderer": "svg", "actions": False})
